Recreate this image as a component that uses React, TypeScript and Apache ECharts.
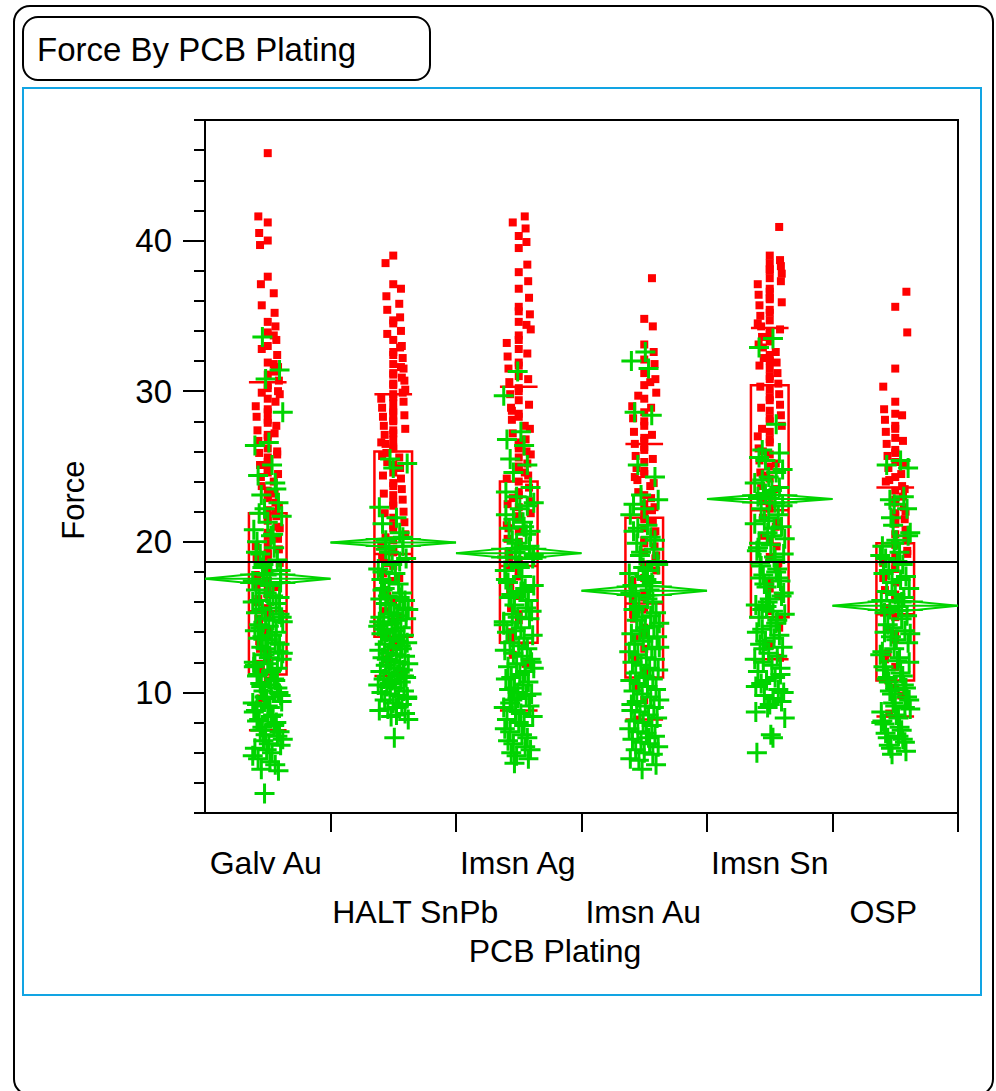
import React, { useEffect, useRef } from "react";
import * as echarts from "echarts";

const CATEGORIES = ["Galv Au", "HALT SnPb", "Imsn Ag", "Imsn Au", "Imsn Sn", "OSP"];

const RED_GALV_AU = [45.8, 41.6, 41.2, 40.5, 40.0, 39.7, 37.6, 37.1, 36.5, 35.7, 35.2, 34.6, 34.3, 33.9, 33.4, 33.0, 32.4, 31.9, 31.6, 31.1, 30.7, 30.2, 29.8, 29.5, 29.0, 28.6, 28.3, 27.9, 27.4, 27.1, 26.7, 26.2, 25.9, 25.6, 25.1, 24.8, 24.3, 24.0, 23.7, 23.2, 22.9, 22.6, 22.1, 21.7, 21.4, 21.0, 20.6, 20.2, 19.9, 19.5, 19.0, 18.6, 18.3, 17.8, 17.4, 17.1, 16.5, 16.0, 15.6, 14.9, 14.2, 13.4, 12.6, 11.9, 10.8, 9.6,
  33.7, 32.8, 31.3, 30.4, 29.3, 28.8, 27.7, 26.9, 26.0, 25.3, 24.5, 23.4, 22.4, 21.6, 20.9, 20.4, 19.7, 19.2, 18.9, 18.1, 17.6, 16.8, 16.2, 15.2, 14.6, 13.8, 12.9, 12.2, 11.5, 31.8, 29.9, 27.2, 24.6, 22.0, 19.4, 17.0, 23.0, 25.8, 28.1, 30.0];
const GREEN_GALV_AU = [33.6, 31.4, 30.8, 28.6, 26.6, 26.4, 25.1, 24.4, 23.9, 23.1, 22.6, 22.2, 21.7, 21.3, 20.8, 20.4, 20.0, 19.6, 19.2, 18.8, 18.5, 18.1, 17.8, 17.4, 17.1, 16.8, 16.4, 16.1, 15.9, 15.5, 15.2, 14.9, 14.7, 14.4, 14.1, 13.8, 13.6, 13.3, 13.0, 12.7, 12.5, 12.2, 11.9, 11.7, 11.4, 11.1, 10.9, 10.6, 10.3, 10.1, 9.8, 9.6, 9.3, 9.0, 8.8, 8.5, 8.2, 8.0, 7.7, 7.4, 7.2, 6.9, 6.6, 6.3, 6.0, 5.6, 5.2, 4.9, 4.8, 3.3, 15.0, 13.5, 12.0, 10.5, 9.2, 7.9, 14.3, 11.6,
  17.9, 17.3, 16.6, 16.0, 15.6, 15.3, 14.8, 14.5, 14.0, 13.7, 13.2, 12.9, 12.6, 12.3, 11.8, 11.5, 11.2, 10.8, 10.4, 10.0, 9.7, 9.4, 9.1, 8.7, 8.4, 8.1, 7.8, 7.5, 7.1, 6.8, 6.5, 6.2, 5.8, 5.4, 19.3, 20.5, 21.9, 23.5, 18.3, 16.3];

const RED_HALT_SNPB = [39.0, 38.5, 37.1, 36.3, 35.8, 35.4, 34.9, 34.5, 34.0, 33.4, 33.0, 32.6, 32.2, 31.8, 31.5, 31.1, 30.7, 30.4, 30.1, 29.8, 29.5, 29.2, 28.9, 28.6, 28.3, 28.0, 27.7, 27.4, 27.1, 26.8, 26.5, 26.2, 25.9, 25.6, 25.3, 24.9, 24.6, 24.2, 23.9, 23.5, 23.1, 22.8, 22.4, 22.0, 21.6, 21.3, 20.9, 20.5, 20.1, 19.7, 19.3, 18.9, 18.4, 17.9, 17.4, 16.8, 16.1, 15.4, 14.7, 13.9, 13.0, 12.2, 11.3,
  33.8, 32.9, 32.4, 31.6, 31.2, 30.9, 30.5, 29.9, 29.6, 29.3, 28.7, 28.4, 28.1, 27.5, 27.2, 26.6, 26.3, 25.7, 25.1, 24.4, 23.7, 23.2, 22.6, 21.9, 21.1, 20.3, 19.5, 18.6, 17.6, 16.4, 15.0, 13.4, 36.8, 34.7];
const GREEN_HALT_SNPB = [25.5, 25.2, 24.9, 22.3, 21.6, 21.2, 20.6, 20.1, 19.7, 19.3, 18.9, 18.5, 18.2, 17.9, 17.5, 17.2, 16.9, 16.6, 16.4, 16.1, 15.8, 15.5, 15.3, 15.0, 14.8, 14.5, 14.3, 14.0, 13.8, 13.5, 13.3, 13.0, 12.8, 12.5, 12.3, 12.0, 11.8, 11.5, 11.3, 11.0, 10.8, 10.5, 10.3, 10.0, 9.8, 9.5, 9.2, 8.9, 8.6, 8.4, 8.2, 7.0, 16.2, 15.1, 14.2, 13.1, 12.2, 11.1, 10.6, 9.7, 13.6, 14.7, 9.0,
  16.8, 16.3, 15.9, 15.6, 15.2, 14.9, 14.6, 14.4, 14.1, 13.9, 13.4, 13.2, 12.9, 12.6, 12.4, 12.1, 11.9, 11.6, 11.4, 11.2, 10.9, 10.7, 10.4, 10.1, 9.9, 9.6, 9.3, 8.8, 8.5, 18.0, 18.7, 19.5, 20.3, 17.3];

const RED_IMSN_AG = [41.6, 41.2, 40.8, 40.3, 39.9, 39.5, 38.4, 37.9, 37.3, 36.8, 36.2, 35.6, 35.1, 34.6, 34.1, 33.7, 33.2, 32.8, 32.3, 31.9, 31.5, 31.0, 30.6, 30.2, 29.8, 29.4, 28.9, 28.5, 28.1, 27.7, 27.2, 26.8, 26.4, 26.0, 25.6, 25.2, 24.8, 24.4, 24.0, 23.6, 23.1, 22.7, 22.3, 21.9, 21.5, 21.1, 20.7, 20.2, 19.8, 19.3, 18.8, 18.3, 17.7, 17.1, 16.4, 15.6, 14.8, 14.0, 13.1, 12.5, 11.9,
  35.3, 34.4, 33.4, 32.5, 31.7, 30.8, 30.0, 29.1, 28.3, 27.5, 26.6, 25.8, 25.0, 24.2, 23.3, 22.5, 21.7, 20.9, 20.0, 19.0, 18.0, 16.8, 15.2, 13.6, 26.2, 28.7, 24.6, 22.9];
const GREEN_IMSN_AG = [31.3, 29.7, 27.3, 26.8, 26.4, 25.5, 25.1, 24.6, 23.6, 23.0, 22.6, 22.2, 21.8, 21.3, 20.9, 20.5, 20.1, 19.7, 19.3, 18.9, 18.5, 18.1, 17.7, 17.3, 16.9, 16.5, 16.1, 15.8, 15.4, 15.0, 14.7, 14.3, 14.0, 13.6, 13.3, 12.9, 12.6, 12.2, 11.9, 11.6, 11.2, 10.9, 10.5, 10.2, 9.8, 9.5, 9.1, 8.8, 8.4, 8.0, 7.6, 7.2, 6.8, 6.4, 6.0, 5.6, 5.3, 12.0, 10.0, 14.5, 16.7, 19.0, 21.0, 9.3,
  22.4, 21.5, 20.7, 19.9, 19.1, 18.3, 17.5, 16.7, 16.3, 15.6, 15.2, 14.9, 14.1, 13.8, 13.1, 12.8, 12.4, 11.7, 11.4, 11.0, 10.7, 10.3, 9.9, 9.6, 9.0, 8.6, 8.2, 7.8, 7.4, 7.0, 6.6, 6.2, 5.8, 17.1, 19.5, 23.3];

const RED_IMSN_AU = [37.5, 34.8, 34.3, 33.1, 32.6, 32.1, 31.8, 31.2, 30.8, 30.4, 29.9, 29.5, 29.0, 28.6, 28.2, 27.7, 27.3, 26.9, 26.5, 26.1, 25.7, 25.3, 24.9, 24.5, 24.1, 23.7, 23.3, 22.9, 22.5, 22.1, 21.7, 21.3, 20.9, 20.5, 20.1, 19.7, 19.3, 18.9, 18.5, 18.1, 17.6, 17.1, 16.6, 16.1, 15.5, 14.9, 14.3, 13.6, 12.9, 12.1, 11.3, 10.4, 9.5, 8.2,
  30.6, 29.7, 28.9, 28.0, 27.1, 26.3, 25.5, 24.7, 23.9, 23.1, 22.3, 21.5, 20.7, 19.9, 19.1, 18.3, 17.4, 16.3, 15.2, 13.9, 12.5, 26.7, 24.3, 21.9];
const GREEN_IMSN_AU = [32.6, 32.0, 31.5, 28.6, 28.4, 25.1, 24.3, 23.1, 22.8, 22.2, 21.8, 21.1, 20.7, 20.3, 19.9, 19.5, 19.1, 18.7, 18.3, 17.9, 17.5, 17.1, 16.8, 16.4, 16.0, 15.7, 15.3, 15.0, 14.6, 14.3, 13.9, 13.6, 13.2, 12.9, 12.5, 12.2, 11.8, 11.5, 11.1, 10.8, 10.4, 10.1, 9.7, 9.4, 9.0, 8.7, 8.3, 8.0, 7.6, 7.3, 6.9, 6.6, 6.2, 5.9, 5.5, 5.2, 4.9, 13.0, 11.0, 9.2, 7.0, 15.5, 17.3,
  20.9, 20.1, 19.3, 18.5, 17.7, 16.6, 16.2, 15.5, 15.1, 14.8, 14.4, 14.1, 13.7, 13.4, 12.7, 12.3, 12.0, 11.6, 11.3, 10.9, 10.6, 10.2, 9.9, 9.5, 9.1, 8.8, 8.5, 8.1, 7.8, 7.4, 7.1, 6.7, 6.4, 6.0, 5.6, 18.1, 22.5];

const RED_IMSN_SN = [40.9, 39.0, 38.7, 38.5, 38.3, 38.1, 37.8, 37.5, 37.1, 36.8, 36.4, 36.1, 35.7, 35.4, 35.0, 34.7, 34.3, 34.0, 33.6, 33.3, 32.9, 32.6, 32.2, 31.9, 31.5, 31.2, 30.8, 30.5, 30.1, 29.8, 29.4, 29.1, 28.7, 28.4, 28.0, 27.7, 27.3, 27.0, 26.6, 26.2, 25.8, 25.4, 25.0, 24.6, 24.2, 23.7, 23.2, 22.7, 22.2, 21.6, 21.0, 20.4, 19.7, 19.0, 18.2, 17.3, 16.4, 15.4, 14.3, 13.1, 12.3,
  38.0, 37.3, 36.6, 35.9, 35.2, 34.5, 33.8, 33.1, 32.4, 31.7, 31.0, 30.3, 29.6, 28.9, 28.2, 27.5, 26.8, 26.0, 25.2, 24.4, 23.5, 22.5, 21.3, 20.1, 18.6, 16.9, 15.0, 36.2, 34.1, 32.0];
const GREEN_IMSN_SN = [33.5, 32.9, 27.8, 26.1, 25.9, 25.4, 24.8, 24.3, 23.9, 23.4, 23.0, 22.6, 22.2, 21.8, 21.4, 21.0, 20.6, 20.2, 19.8, 19.4, 19.0, 18.6, 18.2, 17.8, 17.4, 17.0, 16.6, 16.2, 15.8, 15.4, 15.0, 14.6, 14.2, 13.8, 13.4, 13.0, 12.6, 12.2, 11.8, 11.4, 11.0, 10.6, 10.2, 9.8, 9.4, 9.0, 8.3, 7.2, 6.0, 20.9, 17.6, 14.8, 12.9, 11.6, 15.7, 19.2, 22.9, 10.4, 9.6,
  25.6, 24.6, 24.1, 23.6, 23.2, 22.4, 21.6, 21.2, 20.4, 19.6, 18.8, 18.4, 17.6, 17.2, 16.4, 16.0, 15.2, 14.4, 14.0, 13.6, 13.2, 12.4, 12.0, 11.2, 10.8, 10.0, 9.2, 8.7, 7.0, 19.9, 18.0, 15.5];

const RED_OSP = [36.6, 35.6, 33.9, 31.5, 30.3, 29.3, 28.8, 28.5, 28.1, 27.7, 27.3, 26.9, 26.5, 26.1, 25.7, 25.3, 24.9, 24.5, 24.1, 23.7, 23.4, 23.0, 22.6, 22.3, 21.9, 21.5, 21.2, 20.8, 20.5, 20.1, 19.8, 19.4, 19.0, 18.6, 18.2, 17.8, 17.3, 16.8, 16.2, 15.6, 15.0, 14.3, 13.5, 12.6, 11.7, 10.8, 9.8, 8.6,
  28.4, 27.5, 26.7, 25.9, 25.1, 24.3, 23.5, 22.8, 22.0, 21.3, 20.6, 19.9, 19.2, 18.4, 17.6, 16.5, 15.3, 13.9, 12.2, 10.3, 24.0, 21.7];
const GREEN_OSP = [25.4, 25.1, 23.0, 22.8, 22.2, 21.1, 20.6, 20.1, 19.7, 19.3, 18.9, 18.5, 18.1, 17.7, 17.3, 16.9, 16.5, 16.1, 15.7, 15.3, 14.9, 14.5, 14.1, 13.7, 13.3, 12.9, 12.5, 12.1, 11.7, 11.3, 10.9, 10.5, 10.1, 9.7, 9.3, 8.9, 8.5, 8.1, 7.7, 7.3, 6.9, 6.5, 6.1, 5.9, 12.0, 10.2, 8.0, 7.1, 14.0, 16.0, 11.0, 9.0,
  21.6, 20.4, 19.9, 19.1, 18.7, 17.9, 17.5, 16.7, 16.3, 15.5, 15.1, 14.3, 13.9, 13.5, 12.7, 12.3, 11.5, 11.1, 10.7, 10.3, 9.9, 9.5, 9.1, 8.7, 8.3, 7.9, 7.5, 7.0, 6.7, 6.3, 24.9, 22.5];

const RED_VALUES = [RED_GALV_AU, RED_HALT_SNPB, RED_IMSN_AG, RED_IMSN_AU, RED_IMSN_SN, RED_OSP];
const GREEN_VALUES = [GREEN_GALV_AU, GREEN_HALT_SNPB, GREEN_IMSN_AG, GREEN_IMSN_AU, GREEN_IMSN_SN, GREEN_OSP];

const MEANS = [17.55, 19.95, 19.25, 16.75, 22.85, 15.75];
const MEAN_CI = [0.4, 0.33, 0.4, 0.4, 0.33, 0.4];
const Q10 = [7.5, 11.1, 8.8, 8.2, 12.2, 8.4];
const Q25 = [11.2, 13.7, 13.3, 11.0, 15.0, 10.8];
const MEDIAN = [15.4, 19.2, 18.4, 15.9, 22.1, 15.2];
const Q75 = [21.9, 26.0, 24.0, 21.6, 30.4, 19.9];
const Q90 = [30.6, 29.8, 30.3, 26.5, 34.2, 23.6];
const GRAND_MEAN = 18.7;

const Y_MAJOR_TICKS = [10, 20, 30, 40];
const Y_MINOR_TICKS = [2, 4, 6, 8, 12, 14, 16, 18, 22, 24, 26, 28, 32, 34, 36, 38, 42, 44, 46, 48];
const X_DIVIDERS = [1, 2, 3, 4, 5, 6];

const FONT = "'Liberation Sans', Arial, Helvetica, sans-serif";
const RED = "#ff0000";
const GREEN = "#00d400";
const PX_PER_UNIT = 125.5;
const BOX_HALF = 0.15;
// label layout: row (0 = upper, 1 = lower) and small horizontal nudges in px
const LABEL_ROW = [0, 1, 0, 1, 0, 1];
const LABEL_NUDGE = [-2, 22, -1, -1, 0, -12];

const hash = (k: number, s: number) => (((k * 73 + s * 31 + 17) % 29) / 28) - 0.5;
const jitterRed = (k: number, s: number) => {
  const h = hash(k, s);
  return Math.abs(h) < 0.22 ? 0 : (h * 24) / PX_PER_UNIT;
};
const jitterGreen = (k: number, s: number) => (hash(k * 3 + 5, s + 2) * 30) / PX_PER_UNIT;

const PLUS = "path://M0,8.5L20,8.5L20,11.5L0,11.5Z M8.5,0L11.5,0L11.5,20L8.5,20Z";

export default function App() {
  const ref = useRef<HTMLDivElement>(null);
  useEffect(() => {
    if (!ref.current) return;
    const chart = echarts.init(ref.current, undefined, { renderer: "svg" });

    const redData: number[][] = [];
    RED_VALUES.forEach((arr, i) => arr.forEach((v, k) => redData.push([i + 0.5 + jitterRed(k, i), v])));
    const greenData: number[][] = [];
    GREEN_VALUES.forEach((arr, i) => arr.forEach((v, k) => greenData.push([i + 0.5 + jitterGreen(k, i), v])));

    const boxData = CATEGORIES.map((_, i) => [i, Q10[i], Q25[i], MEDIAN[i], Q75[i], Q90[i]]);
    const diamondData = CATEGORIES.map((_, i) => [i, MEANS[i], MEAN_CI[i]]);

    const axisCommon = {
      type: "value",
      min: 2,
      max: 48,
      position: "left",
      splitLine: { show: false },
      axisLine: { show: true, lineStyle: { color: "#000", width: 2 } },
    };

    const baseGraphics: any[] = [
      {
        id: "outer",
        type: "rect",
        shape: { x: 14, y: 6, width: 979, height: 1089, r: 16 },
        style: { fill: "none", stroke: "#000", lineWidth: 2 },
        silent: true,
      },
      {
        id: "titlebox",
        type: "rect",
        shape: { x: 23, y: 17, width: 407, height: 63, r: 15 },
        style: { fill: "none", stroke: "#000", lineWidth: 2 },
        silent: true,
      },
      {
        id: "title",
        type: "text",
        x: 37,
        y: 49,
        style: { text: "Force By PCB Plating", fontSize: 33, fontFamily: FONT, fill: "#000", verticalAlign: "middle", align: "left" },
      },
      {
        id: "bluebox",
        type: "rect",
        shape: { x: 23, y: 88, width: 958, height: 907 },
        style: { fill: "none", stroke: "#12a4e3", lineWidth: 2 },
        silent: true,
      },
      {
        id: "ytitle",
        type: "text",
        x: 73,
        y: 500,
        rotation: Math.PI / 2,
        style: { text: "Force", fontSize: 31, fontFamily: FONT, fill: "#000", verticalAlign: "middle", align: "center" },
      },
      {
        id: "xtitle",
        type: "text",
        x: 555,
        y: 951,
        style: { text: "PCB Plating", fontSize: 32, fontFamily: FONT, fill: "#000", verticalAlign: "middle", align: "center" },
      },
    ];

    const option: any = {
      animation: false,
      grid: {
        left: 205,
        top: 120,
        width: 753,
        height: 693,
        show: true,
        borderColor: "#000",
        borderWidth: 2,
        backgroundColor: "transparent",
        containLabel: false,
        outerBoundsMode: "none",
      },
      xAxis: {
        type: "value",
        min: 0,
        max: 6,
        splitLine: { show: false },
        axisLine: { show: true, onZero: false, lineStyle: { color: "#000", width: 2 } },
        axisTick: { show: true, customValues: X_DIVIDERS, length: 19, lineStyle: { color: "#000", width: 2 } },
        axisLabel: { show: false },
      },
      yAxis: [
        {
          ...axisCommon,
          axisTick: { show: true, customValues: Y_MAJOR_TICKS, length: 22, lineStyle: { color: "#000", width: 2 } },
          axisLabel: {
            customValues: Y_MAJOR_TICKS,
            margin: 33,
            fontSize: 33,
            fontFamily: FONT,
            color: "#000",
          },
        },
        {
          ...axisCommon,
          axisTick: { show: true, customValues: Y_MINOR_TICKS, length: 11, lineStyle: { color: "#000", width: 2 } },
          axisLabel: { show: false },
        },
      ],
      graphic: baseGraphics,
      series: [
        {
          type: "line",
          data: [],
          markLine: {
            silent: true,
            symbol: "none",
            label: { show: false },
            lineStyle: { color: "#000", width: 2, type: "solid" },
            data: [{ yAxis: GRAND_MEAN }],
          },
          z: 1,
        },
        {
          type: "scatter",
          data: redData,
          symbol: "rect",
          symbolSize: 8,
          itemStyle: { color: RED, opacity: 1 },
          z: 2,
        },
        {
          type: "custom",
          data: boxData,
          z: 3,
          renderItem: (_p: any, api: any) => {
            const i = api.value(0);
            const c = i + 0.5;
            const p10 = api.coord([c - BOX_HALF, api.value(1)]);
            const p25 = api.coord([c - BOX_HALF, api.value(2)]);
            const pm = api.coord([c + BOX_HALF, api.value(3)]);
            const p75 = api.coord([c + BOX_HALF, api.value(4)]);
            const p90 = api.coord([c + BOX_HALF, api.value(5)]);
            const xl = p25[0];
            const xr = pm[0];
            const st = { stroke: RED, lineWidth: 2.5, fill: "none" };
            return {
              type: "group",
              children: [
                { type: "rect", shape: { x: xl, y: p75[1], width: xr - xl, height: p25[1] - p75[1] }, style: st },
                { type: "line", shape: { x1: xl, y1: pm[1], x2: xr, y2: pm[1] }, style: st },
                { type: "line", shape: { x1: xl, y1: p10[1], x2: xr, y2: p10[1] }, style: st },
                { type: "line", shape: { x1: xl, y1: p90[1], x2: xr, y2: p90[1] }, style: st },
              ],
            };
          },
        },
        {
          type: "scatter",
          data: greenData,
          symbol: PLUS,
          symbolSize: 20,
          itemStyle: { color: GREEN, opacity: 1 },
          z: 4,
        },
        {
          type: "custom",
          data: diamondData,
          z: 5,
          renderItem: (_p: any, api: any) => {
            const i = api.value(0);
            const m = api.value(1);
            const ci = api.value(2);
            const L = api.coord([i, m]);
            const R = api.coord([i + 1, m]);
            const T = api.coord([i + 0.5, m + ci]);
            const B = api.coord([i + 0.5, m - ci]);
            const o = ci / Math.SQRT2;
            const oT1 = api.coord([i + 0.28, m + o]);
            const oT2 = api.coord([i + 0.72, m + o]);
            const oB1 = api.coord([i + 0.28, m - o]);
            const oB2 = api.coord([i + 0.72, m - o]);
            const st = { stroke: GREEN, lineWidth: 2, fill: "none" };
            return {
              type: "group",
              children: [
                { type: "polygon", shape: { points: [L, T, R, B] }, style: st },
                { type: "line", shape: { x1: L[0], y1: L[1], x2: R[0], y2: R[1] }, style: st },
                { type: "line", shape: { x1: oT1[0], y1: oT1[1], x2: oT2[0], y2: oT2[1] }, style: st },
                { type: "line", shape: { x1: oB1[0], y1: oB1[1], x2: oB2[0], y2: oB2[1] }, style: st },
              ],
            };
          },
        },
      ],
    };

    chart.setOption(option);

    const labelGraphics = CATEGORIES.map((name, i) => {
      const px = chart.convertToPixel({ xAxisIndex: 0 }, i + 0.5) as number;
      return {
        id: "xl" + i,
        type: "text",
        x: px + LABEL_NUDGE[i],
        y: LABEL_ROW[i] === 0 ? 863 : 912,
        style: { text: name, fontSize: 32, fontFamily: FONT, fill: "#000", verticalAlign: "middle", align: "center" },
      };
    });
    chart.setOption({ graphic: [...baseGraphics, ...labelGraphics] });

    return () => chart.dispose();
  }, []);

  return (
    <div
      ref={ref}
      style={{ position: "absolute", left: 0, top: 0, width: 996, height: 1091, background: "#fff" }}
    />
  );
}
